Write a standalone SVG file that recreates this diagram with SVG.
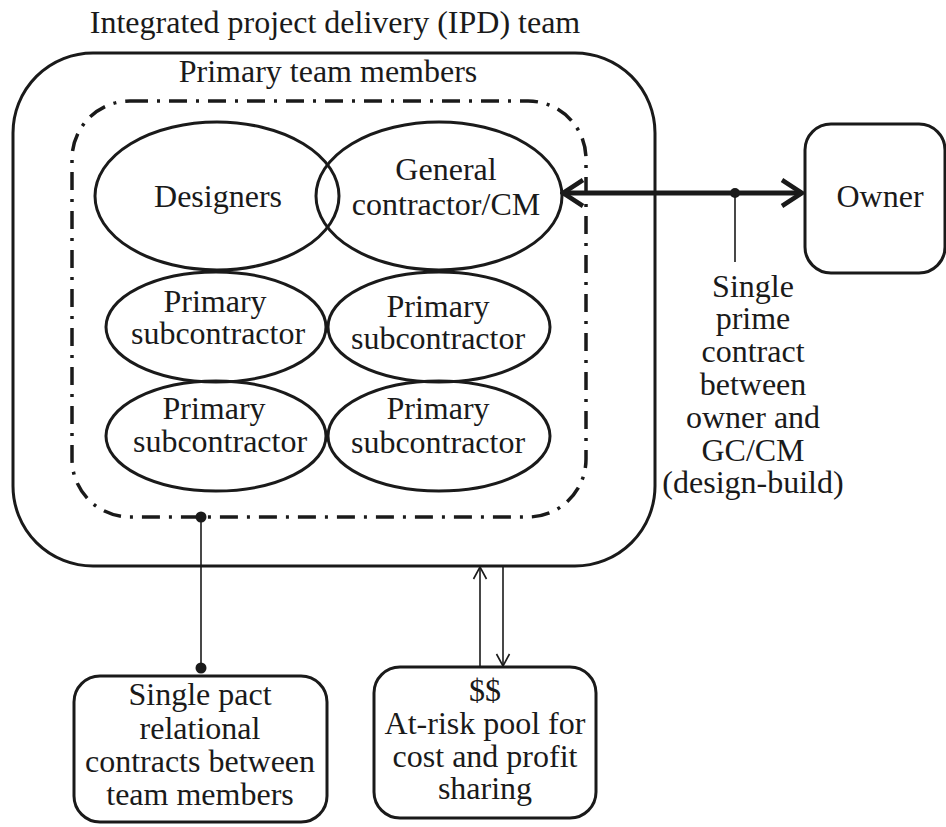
<svg xmlns="http://www.w3.org/2000/svg" width="946" height="827" viewBox="0 0 946 827">
<style>
text{font-family:"Liberation Serif","DejaVu Serif",serif;font-size:32px;fill:#1a1a1a;text-anchor:middle}
.shape{fill:none;stroke:#1a1a1a;stroke-width:3}
.dd{fill:none;stroke:#1a1a1a;stroke-width:3.5;stroke-dasharray:18 9 3 9}
.thin{fill:none;stroke:#1a1a1a;stroke-width:1.6}
.thick{fill:none;stroke:#1a1a1a;stroke-width:5}
.dot{fill:#1a1a1a}
</style>
<defs>
<marker id="bigArrow" viewBox="0 0 26 30" refX="23" refY="15" markerWidth="26" markerHeight="30" markerUnits="userSpaceOnUse" orient="auto-start-reverse">
<path d="M3,2 L23,15 L3,28" fill="none" stroke="#1a1a1a" stroke-width="4.5"/>
</marker>
<marker id="smallArrow" viewBox="0 0 16 16" refX="14" refY="8" markerWidth="16" markerHeight="16" markerUnits="userSpaceOnUse" orient="auto">
<path d="M2,1.5 L14,8 L2,14.5" fill="none" stroke="#1a1a1a" stroke-width="1.6"/>
</marker>
</defs>
<text x="335" y="33">Integrated project delivery (IPD) team</text>
<g id="ipd-team">
<rect class="shape" x="13" y="53" width="642" height="513" rx="80" ry="80"/>
<text x="328" y="82">Primary team members</text>
</g>
<g id="primary-team">
<rect class="dd" x="72" y="101" width="514" height="416" rx="58" ry="58"/>
</g>
<g id="designers">
<ellipse class="shape" cx="217" cy="196" rx="122" ry="74"/>
<text x="218" y="207">Designers</text>
</g>
<g id="general-contractor">
<ellipse class="shape" cx="439" cy="196" rx="123" ry="74"/>
<text x="446" y="180">General</text>
<text x="446" y="215">contractor/CM</text>
</g>
<g id="sub1">
<ellipse class="shape" cx="216" cy="327" rx="110" ry="55"/>
<text x="215" y="312">Primary</text>
<text x="218" y="344">subcontractor</text>
</g>
<g id="sub2">
<ellipse class="shape" cx="439" cy="327" rx="111" ry="55"/>
<text x="438" y="317">Primary</text>
<text x="438" y="349">subcontractor</text>
</g>
<g id="sub3">
<ellipse class="shape" cx="216" cy="436" rx="110" ry="55"/>
<text x="214" y="419">Primary</text>
<text x="220" y="452">subcontractor</text>
</g>
<g id="sub4">
<ellipse class="shape" cx="439" cy="436" rx="111" ry="55"/>
<text x="438" y="419">Primary</text>
<text x="438" y="453">subcontractor</text>
</g>
<g id="owner">
<rect class="shape" x="805" y="124" width="140" height="149" rx="26" ry="26"/>
<text x="880" y="207">Owner</text>
</g>
<g id="single-pact">
<rect class="shape" x="74" y="676" width="253" height="146" rx="26" ry="26"/>
<text x="200" y="705">Single pact</text>
<text x="200" y="739">relational</text>
<text x="200" y="772">contracts between</text>
<text x="200" y="805">team members</text>
</g>
<g id="at-risk-pool">
<rect class="shape" x="374" y="667" width="222" height="151" rx="26" ry="26"/>
<text x="485" y="701">$$</text>
<text x="485" y="734">At-risk pool for</text>
<text x="485" y="767">cost and profit</text>
<text x="485" y="799">sharing</text>
</g>
<g id="prime-contract-label">
<text x="753" y="297">Single</text>
<text x="753" y="329">prime</text>
<text x="753" y="362">contract</text>
<text x="753" y="395">between</text>
<text x="753" y="428">owner and</text>
<text x="753" y="461">GC/CM</text>
<text x="753" y="493">(design-build)</text>
</g>
<g id="connectors">
<line class="thick" x1="563" y1="193" x2="802" y2="193" marker-start="url(#bigArrow)" marker-end="url(#bigArrow)"/>
<circle class="dot" cx="735" cy="193" r="5"/>
<line class="thin" x1="735" y1="193" x2="735" y2="262"/>
<circle class="dot" cx="201" cy="517" r="5.5"/>
<line class="thin" x1="201" y1="517" x2="201" y2="668"/>
<circle class="dot" cx="201" cy="668" r="5.5"/>
<line class="thin" x1="480" y1="667" x2="480" y2="567" marker-end="url(#smallArrow)"/>
<line class="thin" x1="503" y1="566" x2="503" y2="666" marker-end="url(#smallArrow)"/>
</g>
</svg>
